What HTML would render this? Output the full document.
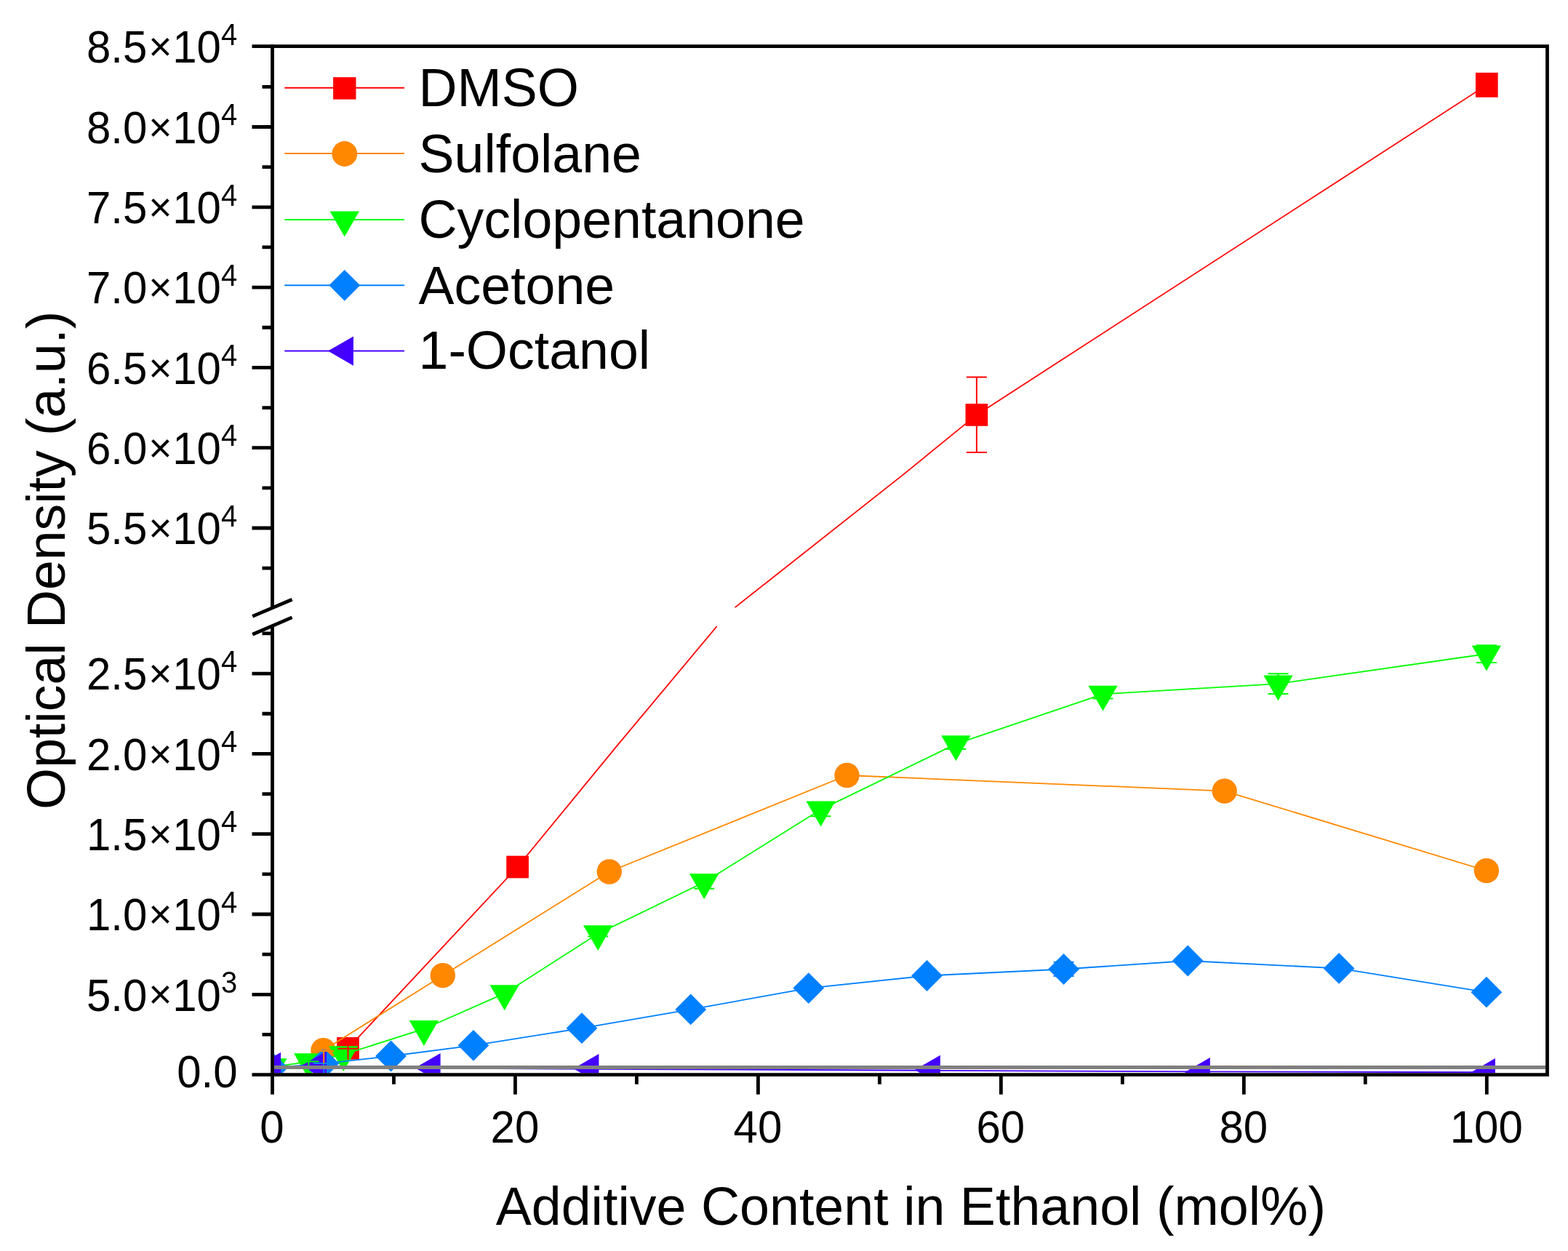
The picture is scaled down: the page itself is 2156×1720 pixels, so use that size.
<!DOCTYPE html><html><head><meta charset="utf-8"><title>Optical Density vs Additive Content</title>
<style>html,body{margin:0;padding:0;background:#fff;}svg{display:block;}</style></head><body>
<svg width="2156" height="1720" viewBox="0 0 2156 1720">
<rect width="100%" height="100%" fill="#fff"/>
<defs>
<clipPath id="cl"><rect x="376.9" y="861.0" width="1748.1999999999998" height="614.1999999999998"/></clipPath>
<clipPath id="cu"><rect x="376.9" y="66.0" width="1748.1999999999998" height="769.4"/></clipPath>
<clipPath id="ca"><rect x="376.9" y="66.0" width="1748.1999999999998" height="1409.1999999999998"/></clipPath>
</defs>
<g id="dmso">
<polyline points="478.5,1441.4 711.6,1192 848.8,1024.9 985.8,861" fill="none" stroke="#FF0000" stroke-width="1.8" stroke-linejoin="round" clip-path="url(#cl)"/>
<polyline points="1010.4,835.4 1243.1,651.6 1342.9,570.4 2044.3,116.85" fill="none" stroke="#FF0000" stroke-width="1.8" stroke-linejoin="round" clip-path="url(#cu)"/>
<g clip-path="url(#ca)">
<rect x="463.15" y="1426.05" width="30.7" height="30.7" fill="#FF0000"/>
<rect x="696.25" y="1176.65" width="30.7" height="30.7" fill="#FF0000"/>
<rect x="1327.55" y="555.05" width="30.7" height="30.7" fill="#FF0000"/>
<rect x="2028.95" y="99.9" width="30.7" height="33.9" fill="#FF0000"/>
</g></g>
<g id="sulfolane">
<polyline points="444.5,1444.2 608.8,1341.2 837.8,1198.5 1164.5,1066 1683.7,1087.6 2043.9,1197.1" fill="none" stroke="#FF8800" stroke-width="1.8" stroke-linejoin="round" clip-path="url(#cl)"/>
<g clip-path="url(#ca)">
<circle cx="444.5" cy="1444.2" r="17.2" fill="#FF8800"/>
<circle cx="608.8" cy="1341.2" r="17.2" fill="#FF8800"/>
<circle cx="837.8" cy="1198.5" r="17.2" fill="#FF8800"/>
<circle cx="1164.5" cy="1066" r="17.2" fill="#FF8800"/>
<circle cx="1683.7" cy="1087.6" r="17.2" fill="#FF8800"/>
<circle cx="2043.9" cy="1197.1" r="17.2" fill="#FF8800"/>
</g></g>
<g id="cyclopentanone">
<polyline points="374.5,1466.8 424.3,1459.9 472.3,1449.8 582.9,1414.7 693.7,1365.9 822.2,1283.8 968.2,1213 1128.6,1113.1 1314.4,1022.9 1516.5,954.3 1757.5,940.1 2043.9,899.1" fill="none" stroke="#00FF00" stroke-width="1.8" stroke-linejoin="round" clip-path="url(#cl)"/>
<g clip-path="url(#cl)">
<polygon points="354.32,1455.15 394.68,1455.15 374.5,1490.1" fill="#00FF00"/>
<polygon points="404.12,1448.25 444.48,1448.25 424.3,1483.2" fill="#00FF00"/>
<polygon points="452.12,1438.15 492.48,1438.15 472.3,1473.1" fill="#00FF00"/>
<polygon points="562.72,1403.05 603.08,1403.05 582.9,1438" fill="#00FF00"/>
<polygon points="673.52,1354.25 713.88,1354.25 693.7,1389.2" fill="#00FF00"/>
<polygon points="802.02,1272.15 842.38,1272.15 822.2,1307.1" fill="#00FF00"/>
<polygon points="948.02,1201.35 988.38,1201.35 968.2,1236.3" fill="#00FF00"/>
<polygon points="1108.42,1101.45 1148.78,1101.45 1128.6,1136.4" fill="#00FF00"/>
<polygon points="1294.22,1011.25 1334.58,1011.25 1314.4,1046.2" fill="#00FF00"/>
<polygon points="1496.32,942.65 1536.68,942.65 1516.5,977.6" fill="#00FF00"/>
<polygon points="1737.32,928.45 1777.68,928.45 1757.5,963.4" fill="#00FF00"/>
<polygon points="2023.72,887.45 2064.08,887.45 2043.9,922.4" fill="#00FF00"/>
</g></g>
<g id="acetone">
<polyline points="374.5,1468 445,1462.3 537.5,1452 651,1437.3 800,1413.7 949.7,1387.9 1111.8,1358.6 1274.5,1341.5 1462.6,1332.5 1633.2,1321 1841.1,1331.4 2043.9,1364.2" fill="none" stroke="#0080FF" stroke-width="1.8" stroke-linejoin="round" clip-path="url(#cl)"/>
<g clip-path="url(#cl)">
<polygon points="374.5,1446.6 395.9,1468 374.5,1489.4 353.1,1468" fill="#0080FF"/>
<polygon points="445,1440.9 466.4,1462.3 445,1483.7 423.6,1462.3" fill="#0080FF"/>
<polygon points="537.5,1430.6 558.9,1452 537.5,1473.4 516.1,1452" fill="#0080FF"/>
<polygon points="651,1415.9 672.4,1437.3 651,1458.7 629.6,1437.3" fill="#0080FF"/>
<polygon points="800,1392.3 821.4,1413.7 800,1435.1 778.6,1413.7" fill="#0080FF"/>
<polygon points="949.7,1366.5 971.1,1387.9 949.7,1409.3 928.3,1387.9" fill="#0080FF"/>
<polygon points="1111.8,1337.2 1133.2,1358.6 1111.8,1380 1090.4,1358.6" fill="#0080FF"/>
<polygon points="1274.5,1320.1 1295.9,1341.5 1274.5,1362.9 1253.1,1341.5" fill="#0080FF"/>
<polygon points="1462.6,1311.1 1484,1332.5 1462.6,1353.9 1441.2,1332.5" fill="#0080FF"/>
<polygon points="1633.2,1299.6 1654.6,1321 1633.2,1342.4 1611.8,1321" fill="#0080FF"/>
<polygon points="1841.1,1310 1862.5,1331.4 1841.1,1352.8 1819.7,1331.4" fill="#0080FF"/>
<polygon points="2043.9,1342.8 2065.3,1364.2 2043.9,1385.6 2022.5,1364.2" fill="#0080FF"/>
</g></g>
<g id="octanol">
<polyline points="374.5,1467.5 437.3,1466 594,1468.6 811.8,1469.8 1281.2,1471.8 1652.2,1473.3 2044.3,1474.3" fill="none" stroke="#4400FF" stroke-width="1.8" stroke-linejoin="round" clip-path="url(#cl)"/>
<g clip-path="url(#cl)">
<polygon points="351.2,1467 386.15,1446.82 386.15,1487.18" fill="#4400FF"/>
<polygon points="414,1465.4 448.95,1445.22 448.95,1485.58" fill="#4400FF"/>
<polygon points="570.7,1468.2 605.65,1448.02 605.65,1488.38" fill="#4400FF"/>
<polygon points="788.5,1469.2 823.45,1449.02 823.45,1489.38" fill="#4400FF"/>
<polygon points="1257.9,1471 1292.85,1450.82 1292.85,1491.18" fill="#4400FF"/>
<polygon points="1628.9,1474.3 1663.85,1454.12 1663.85,1494.48" fill="#4400FF"/>
<polygon points="2021,1475.3 2055.95,1455.12 2055.95,1495.48" fill="#4400FF"/>
</g></g>
<g id="errorbars" clip-path="url(#ca)">
<path d="M1342.9,518.6V622.1M1328.9,518.6H1356.9M1328.9,622.1H1356.9" stroke="#FF0000" stroke-width="2" fill="none"/>
<path d="M822.2,1280.2V1287.4M808.2,1280.2H836.2M808.2,1287.4H836.2" stroke="#00FF00" stroke-width="2" fill="none"/>
<path d="M968.2,1204.2V1221.8M954.2,1204.2H982.2M954.2,1221.8H982.2" stroke="#00FF00" stroke-width="2" fill="none"/>
<path d="M1128.6,1104V1122.2M1114.6,1104H1142.6M1114.6,1122.2H1142.6" stroke="#00FF00" stroke-width="2" fill="none"/>
<path d="M1314.4,1015.7V1030.1M1300.4,1015.7H1328.4M1300.4,1030.1H1328.4" stroke="#00FF00" stroke-width="2" fill="none"/>
<path d="M1516.5,948.1V960.5M1502.5,948.1H1530.5M1502.5,960.5H1530.5" stroke="#00FF00" stroke-width="2" fill="none"/>
<path d="M1757.5,926.3V953.9M1743.5,926.3H1771.5M1743.5,953.9H1771.5" stroke="#00FF00" stroke-width="2" fill="none"/>
<path d="M2043.9,887.2V911M2029.9,887.2H2057.9M2029.9,911H2057.9" stroke="#00FF00" stroke-width="2" fill="none"/>
<path d="M1462.6,1322.7V1342M1448.6,1322.7H1476.6M1448.6,1342H1476.6" stroke="#0080FF" stroke-width="2" fill="none"/>
<line x1="424.3" y1="1459.5" x2="424.3" y2="1480" stroke="#00FF00" stroke-width="2"/>
<line x1="410" y1="1459.6" x2="438.6" y2="1459.6" stroke="#00FF00" stroke-width="2"/>
<line x1="445.2" y1="1462" x2="445.2" y2="1480" stroke="#0080FF" stroke-width="2"/>
<line x1="431" y1="1462" x2="459.4" y2="1462" stroke="#0080FF" stroke-width="2"/>
<line x1="445.2" y1="1427" x2="445.2" y2="1461.9" stroke="#FF8800" stroke-width="2"/>
<line x1="431" y1="1445" x2="459.4" y2="1445" stroke="#FF8800" stroke-width="2"/>
<line x1="478.5" y1="1426" x2="478.5" y2="1456.7" stroke="#FF0000" stroke-width="2"/>
<line x1="464.3" y1="1441.7" x2="492.7" y2="1441.7" stroke="#FF0000" stroke-width="2"/>
</g>
<line x1="376.9" y1="1467.5" x2="2127.5" y2="1467.5" stroke="#808080" stroke-width="4.8"/>
<g id="axes" stroke="#000" stroke-width="4.8" fill="none" stroke-linecap="butt">
<path d="M346.5,63.6H2129.9M2127.5,61.2V1480.0M346.5,1477.6H2129.9"/>
<path d="M374.5,61.2V835.4M374.5,861.0V1504.6999999999998"/>
<path d="M346.5,174.5H374.5 M346.5,284.8H374.5 M346.5,395.1H374.5 M346.5,505.4H374.5 M346.5,615.7H374.5 M346.5,726H374.5 M360.5,119.35H374.5 M360.5,229.65H374.5 M360.5,339.95H374.5 M360.5,450.25H374.5 M360.5,560.55H374.5 M360.5,670.85H374.5 M360.5,781.15H374.5 M346.5,1367.3H374.5 M346.5,1257H374.5 M346.5,1146.7H374.5 M346.5,1036.4H374.5 M346.5,926.1H374.5 M360.5,1422.45H374.5 M360.5,1312.15H374.5 M360.5,1201.85H374.5 M360.5,1091.55H374.5 M360.5,981.25H374.5 M360.5,870.95H374.5 M541.48,1477.6V1490.8 M708.46,1477.6V1504.7 M875.44,1477.6V1490.8 M1042.42,1477.6V1504.7 M1209.4,1477.6V1490.8 M1376.38,1477.6V1504.7 M1543.36,1477.6V1490.8 M1710.34,1477.6V1504.7 M1877.32,1477.6V1490.8 M2044.3,1477.6V1504.7"/>
<path d="M347.2,847.4L401.6,824.3M347.2,872.3L401.6,848.9" stroke-width="4.8"/>
</g>
<g id="ylabels" font-family="'Liberation Sans', Arial, sans-serif" font-size="60" fill="#000" text-anchor="end">
<text x="202.4" y="86.5" transform="translate(0,86.5) scale(1,1.05) translate(0,-86.5)">8.5</text><text x="204.16" y="83.35" font-size="55.4" text-anchor="start">×</text><text x="237.2" y="86.5" text-anchor="start" transform="translate(0,86.5) scale(1,1.05) translate(0,-86.5)">10</text><text x="304.1" y="62" font-size="40" text-anchor="start" transform="translate(0,62) scale(1,1.05) translate(0,-62)">4</text>
<text x="202.4" y="196.8" transform="translate(0,196.8) scale(1,1.05) translate(0,-196.8)">8.0</text><text x="204.16" y="193.65" font-size="55.4" text-anchor="start">×</text><text x="237.2" y="196.8" text-anchor="start" transform="translate(0,196.8) scale(1,1.05) translate(0,-196.8)">10</text><text x="304.1" y="172.3" font-size="40" text-anchor="start" transform="translate(0,172.3) scale(1,1.05) translate(0,-172.3)">4</text>
<text x="202.4" y="307.1" transform="translate(0,307.1) scale(1,1.05) translate(0,-307.1)">7.5</text><text x="204.16" y="303.95" font-size="55.4" text-anchor="start">×</text><text x="237.2" y="307.1" text-anchor="start" transform="translate(0,307.1) scale(1,1.05) translate(0,-307.1)">10</text><text x="304.1" y="282.6" font-size="40" text-anchor="start" transform="translate(0,282.6) scale(1,1.05) translate(0,-282.6)">4</text>
<text x="202.4" y="417.4" transform="translate(0,417.4) scale(1,1.05) translate(0,-417.4)">7.0</text><text x="204.16" y="414.25" font-size="55.4" text-anchor="start">×</text><text x="237.2" y="417.4" text-anchor="start" transform="translate(0,417.4) scale(1,1.05) translate(0,-417.4)">10</text><text x="304.1" y="392.9" font-size="40" text-anchor="start" transform="translate(0,392.9) scale(1,1.05) translate(0,-392.9)">4</text>
<text x="202.4" y="527.7" transform="translate(0,527.7) scale(1,1.05) translate(0,-527.7)">6.5</text><text x="204.16" y="524.55" font-size="55.4" text-anchor="start">×</text><text x="237.2" y="527.7" text-anchor="start" transform="translate(0,527.7) scale(1,1.05) translate(0,-527.7)">10</text><text x="304.1" y="503.2" font-size="40" text-anchor="start" transform="translate(0,503.2) scale(1,1.05) translate(0,-503.2)">4</text>
<text x="202.4" y="638" transform="translate(0,638) scale(1,1.05) translate(0,-638)">6.0</text><text x="204.16" y="634.85" font-size="55.4" text-anchor="start">×</text><text x="237.2" y="638" text-anchor="start" transform="translate(0,638) scale(1,1.05) translate(0,-638)">10</text><text x="304.1" y="613.5" font-size="40" text-anchor="start" transform="translate(0,613.5) scale(1,1.05) translate(0,-613.5)">4</text>
<text x="202.4" y="748.3" transform="translate(0,748.3) scale(1,1.05) translate(0,-748.3)">5.5</text><text x="204.16" y="745.15" font-size="55.4" text-anchor="start">×</text><text x="237.2" y="748.3" text-anchor="start" transform="translate(0,748.3) scale(1,1.05) translate(0,-748.3)">10</text><text x="304.1" y="723.8" font-size="40" text-anchor="start" transform="translate(0,723.8) scale(1,1.05) translate(0,-723.8)">4</text>
<text x="202.4" y="948.4" transform="translate(0,948.4) scale(1,1.05) translate(0,-948.4)">2.5</text><text x="204.16" y="945.25" font-size="55.4" text-anchor="start">×</text><text x="237.2" y="948.4" text-anchor="start" transform="translate(0,948.4) scale(1,1.05) translate(0,-948.4)">10</text><text x="304.1" y="923.9" font-size="40" text-anchor="start" transform="translate(0,923.9) scale(1,1.05) translate(0,-923.9)">4</text>
<text x="202.4" y="1058.7" transform="translate(0,1058.7) scale(1,1.05) translate(0,-1058.7)">2.0</text><text x="204.16" y="1055.55" font-size="55.4" text-anchor="start">×</text><text x="237.2" y="1058.7" text-anchor="start" transform="translate(0,1058.7) scale(1,1.05) translate(0,-1058.7)">10</text><text x="304.1" y="1034.2" font-size="40" text-anchor="start" transform="translate(0,1034.2) scale(1,1.05) translate(0,-1034.2)">4</text>
<text x="202.4" y="1169" transform="translate(0,1169) scale(1,1.05) translate(0,-1169)">1.5</text><text x="204.16" y="1165.85" font-size="55.4" text-anchor="start">×</text><text x="237.2" y="1169" text-anchor="start" transform="translate(0,1169) scale(1,1.05) translate(0,-1169)">10</text><text x="304.1" y="1144.5" font-size="40" text-anchor="start" transform="translate(0,1144.5) scale(1,1.05) translate(0,-1144.5)">4</text>
<text x="202.4" y="1279.3" transform="translate(0,1279.3) scale(1,1.05) translate(0,-1279.3)">1.0</text><text x="204.16" y="1276.15" font-size="55.4" text-anchor="start">×</text><text x="237.2" y="1279.3" text-anchor="start" transform="translate(0,1279.3) scale(1,1.05) translate(0,-1279.3)">10</text><text x="304.1" y="1254.8" font-size="40" text-anchor="start" transform="translate(0,1254.8) scale(1,1.05) translate(0,-1254.8)">4</text>
<text x="202.4" y="1389.6" transform="translate(0,1389.6) scale(1,1.05) translate(0,-1389.6)">5.0</text><text x="204.16" y="1386.45" font-size="55.4" text-anchor="start">×</text><text x="237.2" y="1389.6" text-anchor="start" transform="translate(0,1389.6) scale(1,1.05) translate(0,-1389.6)">10</text><text x="304.1" y="1365.1" font-size="40" text-anchor="start" transform="translate(0,1365.1) scale(1,1.05) translate(0,-1365.1)">3</text>
<text x="326.6" y="1495.2" transform="translate(0,1495.2) scale(1,1.05) translate(0,-1495.2)">0.0</text>
</g>
<g id="xlabels" font-family="'Liberation Sans', Arial, sans-serif" font-size="60" fill="#000" text-anchor="middle">
<text x="374" y="1571" transform="translate(0,1571) scale(1,1.05) translate(0,-1571)">0</text>
<text x="707.96" y="1571" transform="translate(0,1571) scale(1,1.05) translate(0,-1571)">20</text>
<text x="1041.92" y="1571" transform="translate(0,1571) scale(1,1.05) translate(0,-1571)">40</text>
<text x="1375.88" y="1571" transform="translate(0,1571) scale(1,1.05) translate(0,-1571)">60</text>
<text x="1709.84" y="1571" transform="translate(0,1571) scale(1,1.05) translate(0,-1571)">80</text>
<text x="2043.8" y="1571" transform="translate(0,1571) scale(1,1.05) translate(0,-1571)">100</text>
</g>
<text font-family="'Liberation Sans', Arial, sans-serif" font-size="73.6" text-anchor="middle" x="1252.3" y="1683.6">Additive Content in Ethanol (mol%)</text>
<text font-family="'Liberation Sans', Arial, sans-serif" font-size="73.4" text-anchor="middle" transform="translate(89,770.3) rotate(-90)">Optical Density (a.u.)</text>
<g id="legend">
<line x1="391.3" y1="120.8" x2="556" y2="120.8" stroke="#FF0000" stroke-width="2"/>
<rect x="458.1" y="106.15" width="31.4" height="30.5" fill="#FF0000"/>
<text font-family="'Liberation Sans', Arial, sans-serif" font-size="73.5" x="575.5" y="146.0">DMSO</text>
<line x1="391.3" y1="211.1" x2="556" y2="211.1" stroke="#FF8800" stroke-width="2"/>
<circle cx="473.8" cy="211.5" r="17.4" fill="#FF8800"/>
<text font-family="'Liberation Sans', Arial, sans-serif" font-size="73.5" x="575.5" y="236.6">Sulfolane</text>
<line x1="391.3" y1="302.1" x2="556" y2="302.1" stroke="#00FF00" stroke-width="2"/>
<polygon points="453.62,290.45 493.98,290.45 473.8,325.4" fill="#00FF00"/>
<text font-family="'Liberation Sans', Arial, sans-serif" font-size="73.5" x="575.5" y="327.1">Cyclopentanone</text>
<line x1="391.3" y1="392.3" x2="556" y2="392.3" stroke="#0080FF" stroke-width="2"/>
<polygon points="473.8,370.9 495.2,392.3 473.8,413.7 452.4,392.3" fill="#0080FF"/>
<text font-family="'Liberation Sans', Arial, sans-serif" font-size="73.5" x="575.5" y="418.0">Acetone</text>
<line x1="391.3" y1="482.6" x2="556" y2="482.6" stroke="#4400FF" stroke-width="2"/>
<polygon points="451,482.6 485.95,462.42 485.95,502.78" fill="#4400FF"/>
<text font-family="'Liberation Sans', Arial, sans-serif" font-size="73.5" x="575.5" y="507.4">1-Octanol</text>
</g>
</svg></body></html>
